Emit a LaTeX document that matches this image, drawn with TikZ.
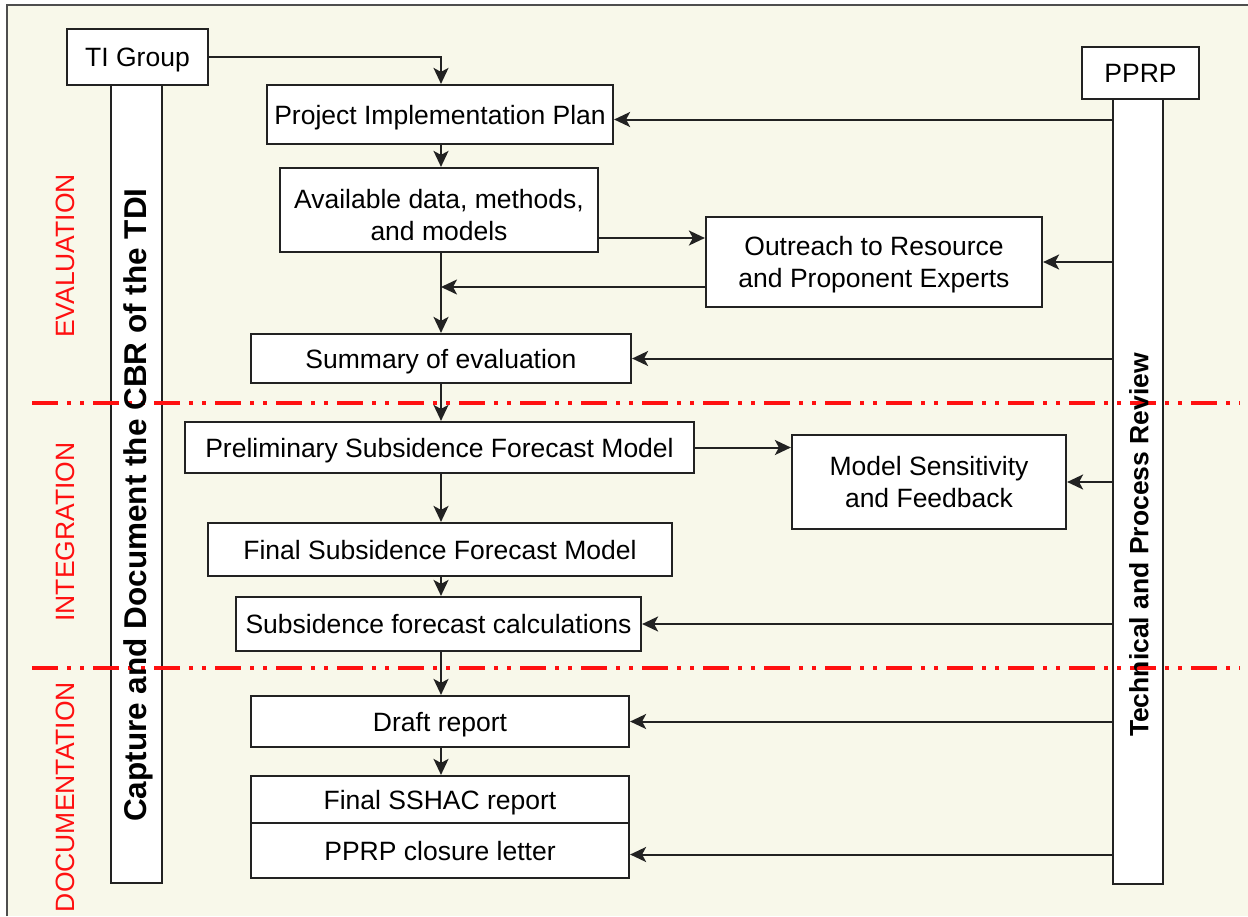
\documentclass[tikz,border=0pt]{standalone}
\usepackage{fontspec}
\setmainfont{Liberation Sans}
\usetikzlibrary{arrows.meta,calc}
\definecolor{paper}{HTML}{F8F8EA}
\definecolor{ink}{HTML}{222222}
\definecolor{phase}{HTML}{FF1010}
\begin{document}
\begin{tikzpicture}[x=1pt,y=-1pt,
  box/.style={draw=ink,fill=white,line width=2.2pt,inner sep=0pt,align=center,
    text depth=0pt,font=\fontsize{26.5}{32}\selectfont},
  bar/.style={draw=ink,fill=white,line width=2.2pt,inner sep=0pt},
  bartext/.style={rotate=90,font=\fontsize{26.5}{32}\selectfont\bfseries},
  phaselabel/.style={rotate=90,text=phase,font=\fontsize{26.5}{32}\selectfont},
  arr/.style={draw=ink,line width=2pt,-{Stealth[length=16pt,width=15pt,inset=4pt]}},
  divider/.style={draw=phase,line width=4pt,
    dash pattern=on 26pt off 9pt on 4pt off 9pt on 4pt off 9pt}]
% canvas and frame
\useasboundingbox (0,0) rectangle (1248,916);
\fill[white] (0,0) rectangle (1248,916);
\fill[paper] (7,5) rectangle (1248,916);
\draw[ink!80,line width=1.5pt] (7,916) -- (7,5) -- (1248,5);

% swimlane bars
\node[bar,minimum width=51pt,minimum height=798pt] (lbar) at (136.5,484) {};
\node[bar,minimum width=50pt,minimum height=785pt] (rbar) at (1138,491.5) {};
\node[box,minimum width=141pt,minimum height=56pt] (ti) at (137.5,57) {TI Group};
\node[box,minimum width=117pt,minimum height=52pt] (pprp) at (1140.5,73) {PPRP};

% phase dividers
\draw[divider] (32,403) -- (1240,403);
\draw[divider] (32,668) -- (1240,668);

\node[bartext,font=\fontsize{31.5}{36}\selectfont\bfseries] (ltext) at (138,505) {Capture and Document the CBR of the TDI};
\node[bartext] (rtext) at (1139,545) {Technical and Process Review};

% phase labels
\node[phaselabel] (eval) at (65,256) {EVALUATION};
\node[phaselabel] (integ) at (65,532) {INTEGRATION};
\node[phaselabel] (docu) at (65,797) {DOCUMENTATION};

% process boxes
\node[box,minimum width=346pt,minimum height=59pt] (pip) at (440,114.5) {Project Implementation Plan};
\node[box,minimum width=318pt,minimum height=84pt] (avail) at (439,210) {\raisebox{10pt}{\begin{tabular}{@{}c@{}}Available data, methods,\\and models\end{tabular}}};
\node[box,minimum width=336pt,minimum height=90pt] (outreach) at (874,262) {Outreach to Resource\\and Proponent Experts};
\node[box,minimum width=380pt,minimum height=49pt] (summary) at (441,358.5) {Summary of evaluation};
\node[box,minimum width=509pt,minimum height=51pt] (prelim) at (439.5,447.5) {Preliminary Subsidence Forecast Model};
\node[box,minimum width=274pt,minimum height=94pt] (sens) at (929,482) {Model Sensitivity\\and Feedback};
\node[box,minimum width=464pt,minimum height=53pt] (final) at (440,549.5) {Final Subsidence Forecast Model};
\node[box,minimum width=405pt,minimum height=54pt] (calc) at (438.5,624) {Subsidence forecast calculations};
\node[box,minimum width=378pt,minimum height=51pt] (draft) at (440,721.5) {Draft report};
\node[box,minimum width=378pt,minimum height=47pt] (sshac) at (440,799.5) {Final SSHAC report};
\node[box,minimum width=378pt,minimum height=55pt] (closure) at (440,850.5) {PPRP closure letter};

% main flow
\coordinate (trunk) at (441,0);
\draw[arr] (ti.east) -| (pip.north -| trunk);
\draw[arr] (pip.south -| trunk) -- (avail.north -| trunk);
\draw[arr] (avail.south -| trunk) -- (summary.north -| trunk);
\draw[arr] ([yshift=-28pt]avail.east) -- ([yshift=-28pt]avail.east -| outreach.west);
\draw[arr] ([yshift=-25pt]outreach.west) -- ([yshift=-25pt]outreach.west -| trunk);
\draw[arr] (summary.south -| trunk) -- (prelim.north -| trunk);
\draw[arr] (prelim.east) -- (prelim.east -| sens.west);
\draw[arr] (prelim.south -| trunk) -- (final.north -| trunk);
\draw[arr] (final.south -| trunk) -- (calc.north -| trunk);
\draw[arr] (calc.south -| trunk) -- (draft.north -| trunk);
\draw[arr] (draft.south -| trunk) -- (sshac.north -| trunk);

% review feedback from the PPRP lane
\draw[arr] ([yshift=-5pt]rbar.west |- pip.east) -- ([yshift=-5pt]pip.east);
\draw[arr] (rbar.west |- outreach.east) -- (outreach.east);
\draw[arr] (rbar.west |- summary.east) -- (summary.east);
\draw[arr] (rbar.west |- sens.east) -- (sens.east);
\draw[arr] (rbar.west |- calc.east) -- (calc.east);
\draw[arr] (rbar.west |- draft.east) -- (draft.east);
\draw[arr] ([yshift=-4pt]rbar.west |- closure.east) -- ([yshift=-4pt]closure.east);
\end{tikzpicture}
\end{document}
